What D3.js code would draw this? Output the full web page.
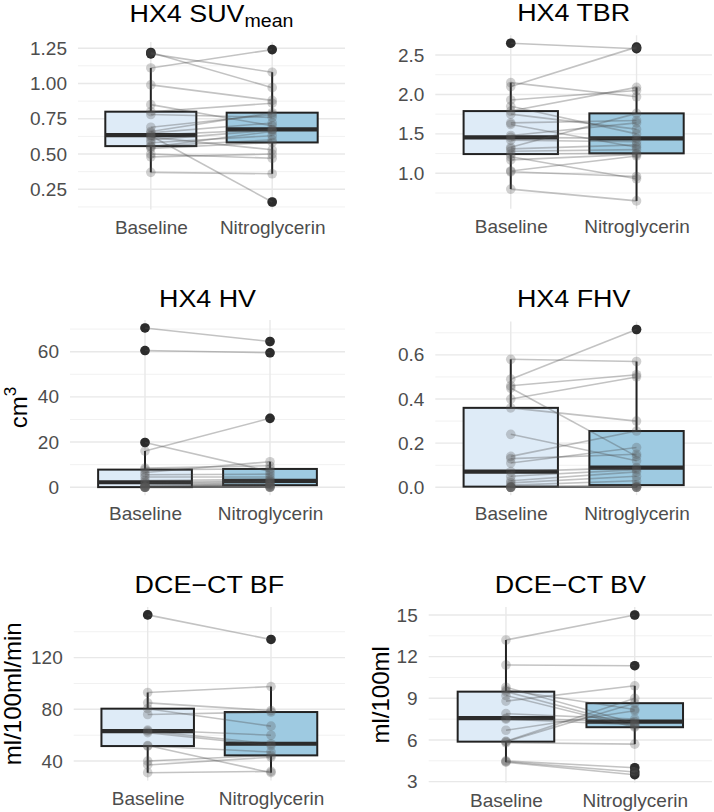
<!DOCTYPE html>
<html><head><meta charset="utf-8">
<script src="https://cdn.jsdelivr.net/npm/d3@7"></script>
<style>body{margin:0;background:#fff}svg text{font-family:"Liberation Sans",Arial,sans-serif}</style>
</head><body><svg id="c" width="714" height="812"></svg>
<script>
// ---------- data (paired values, same patient order in each pair of arrays) ----------
const categories = ["Baseline", "Nitroglycerin"];

const suvBaseline = [1.22,1.21,1.11,0.99,0.85,0.80,0.78,0.69,0.63,0.66,0.65,0.634,0.62,0.60,0.58,0.556,0.55,0.54,0.50,0.48,0.37];
const suvNitro    = [0.97,1.08,1.24,0.88,0.70,0.86,0.76,0.78,0.16,0.793,0.72,0.674,0.53,0.67,0.63,0.60,0.66,0.582,0.47,0.50,0.36];
const suvTicks = [0.25,0.50,0.75,1.00,1.25];

const tbrBaseline = [2.65,2.15,2.10,1.93,1.85,1.789,1.75,1.64,1.62,1.48,1.456,1.42,1.33,1.31,1.28,1.244,1.21,1.17,1.03,1.02,0.80];
const tbrNitro    = [2.58,1.97,2.60,2.05,1.50,2.09,1.56,1.67,1.33,1.64,1.443,1.40,1.76,1.36,1.30,1.253,0.93,1.24,1.22,0.96,0.65];
const tbrTicks = [1.0,1.5,2.0,2.5];

const hvBaseline = [70.5,60.5,19.8,16,8.5,7.8,6.5,5.5,4.5,3.0,2.2,1.6,1.0,0.6,0.3,0.05,0,0,0,0,0];
const hvNitro    = [64.5,59.5,7.0,30.5,9.5,8.1,11.3,5.8,4.5,3.5,2.8,2.4,2.0,1.5,1.2,0.9,0.5,0.2,0,0,0];
const hvTicks = [0,20,40,60];

const fhvBaseline = [0.49,0.58,0.46,0.45,0.40,0.36,0.24,0.14,0.13,0.11,0.071,0.05,0.03,0.02,0.01,0.003,0,0,0,0,0];
const fhvNitro    = [0.715,0.57,0.51,0.14,0.50,0.30,0.12,0.255,0.15,0.18,0.089,0.08,0.07,0.05,0.03,0.01,0.005,0,0,0,0];
const fhvTicks = [0.0,0.2,0.4,0.6];

const bfBaseline = [153,93,85,80.5,76,64,63.2,62,52,51.6,40,37,31];
const bfNitro    = [134,97.6,79,67,77.9,60,53.4,52,31,47,44.4,43,32];
const bfTicks = [40,80,120];

const bvBaseline = [13.2,11.4,9.8,9.6,9.48,9.2,8.8,7.9,7.57,7.5,6.7,5.9,5.88,5.8,4.5,4.45,4.4];
const bvNitro    = [15.0,11.35,7.2,8.2,7.0,6.92,9.9,7.5,7.32,7.1,8.1,9.0,8.65,5.7,4.0,3.7,3.5];
const bvTicks = [3,6,9,12,15];

const titles = ["HX4 SUV", "HX4 TBR", "HX4 HV", "HX4 FHV", "DCE\u2212CT BF", "DCE\u2212CT BV"];
const yTitles = [null, null, "cm", null, "ml/100ml/min", "ml/100ml"];

// ---------- layout ----------
const layout = [
  {left:78,    right:345, top:42,    bottom:209.6, titleY:22.2, fmt:".2f", sub:"mean"},
  {left:435.3, right:712, top:35.3,  bottom:208.8, titleY:21.4, fmt:".1f"},
  {left:70,    right:345, top:320,   bottom:495.2, titleY:306.7, fmt:"d", ylabX:26.5, sup:"3"},
  {left:435.3, right:712, top:321.6, bottom:495.2, titleY:306.7, fmt:".1f"},
  {left:73.7,  right:345, top:607,   bottom:780.6, titleY:593.3, fmt:"d", ylabX:21},
  {left:428.7, right:712, top:607,   bottom:782.7, titleY:593.3, fmt:"d", ylabX:389}
];
const series = [
  [suvBaseline, suvNitro, suvTicks],
  [tbrBaseline, tbrNitro, tbrTicks],
  [hvBaseline, hvNitro, hvTicks],
  [fhvBaseline, fhvNitro, fhvTicks],
  [bfBaseline, bfNitro, bfTicks],
  [bvBaseline, bvNitro, bvTicks]
];
const fills = ["#deebf7", "#9ecae1"];

const svg = d3.select("#c");

function boxStats(vals) {
  const s = vals.slice().sort(d3.ascending);
  const q1 = d3.quantileSorted(s, 0.25), med = d3.quantileSorted(s, 0.5), q3 = d3.quantileSorted(s, 0.75);
  const iqr = q3 - q1, lo = q1 - 1.5 * iqr, hi = q3 + 1.5 * iqr;
  const inside = s.filter(v => v >= lo && v <= hi);
  return {q1, med, q3, wlo: d3.min(inside), whi: d3.max(inside), out: s.filter(v => v < lo || v > hi)};
}

layout.forEach((L, i) => {
  const [base, nitro, ticks] = series[i];
  const g = svg.append("g");
  const all = base.concat(nitro);
  const [mn, mx] = d3.extent(all);
  const r = mx - mn;
  const y = d3.scaleLinear().domain([mn - 0.05 * r, mx + 0.05 * r]).range([L.bottom, L.top]);
  const x = d3.scalePoint().domain(categories).range([L.left, L.right]).padding(0.6);
  const bw = x.step() * 0.75;
  const [d0, d1] = y.domain();

  // minor grid
  const step = ticks[1] - ticks[0];
  const minor = [];
  for (let k = -1; k <= ticks.length; k++) {
    const v = ticks[0] + (k + 0.5) * step;
    if (v > d0 && v < d1) minor.push(v);
  }
  g.selectAll(".mg").data(minor).join("line")
    .attr("x1", L.left).attr("x2", L.right).attr("y1", d => y(d)).attr("y2", d => y(d))
    .attr("stroke", "#f1f1f1").attr("stroke-width", 1);
  g.selectAll(".Mg").data(ticks).join("line")
    .attr("x1", L.left).attr("x2", L.right).attr("y1", d => y(d)).attr("y2", d => y(d))
    .attr("stroke", "#e8e8e8").attr("stroke-width", 1.4);
  g.selectAll(".vg").data(categories).join("line")
    .attr("x1", d => x(d)).attr("x2", d => x(d)).attr("y1", L.top).attr("y2", L.bottom)
    .attr("stroke", "#e8e8e8").attr("stroke-width", 1.4);

  // y axis
  const ya = g.append("g").attr("transform", `translate(${L.left},0)`)
    .call(d3.axisLeft(y).tickValues(ticks).tickFormat(d3.format(L.fmt)).tickSize(0).tickPadding(11));
  ya.select(".domain").remove();
  ya.selectAll("text").attr("font-size", 19).attr("fill", "#4d4d4d")
    .style("font-family", '"Liberation Sans",Arial,sans-serif');

  // x axis
  const xa = g.append("g").attr("transform", `translate(0,${L.bottom})`)
    .call(d3.axisBottom(x).tickSize(0).tickPadding(11));
  xa.select(".domain").remove();
  xa.selectAll("text").attr("font-size", 19).attr("fill", "#4d4d4d")
    .style("font-family", '"Liberation Sans",Arial,sans-serif');

  // boxplots
  [base, nitro].forEach((vals, j) => {
    const st = boxStats(vals);
    const cx = x(categories[j]);
    g.append("line").attr("x1", cx).attr("x2", cx).attr("y1", y(st.whi)).attr("y2", y(st.q3))
      .attr("stroke", "#222").attr("stroke-width", 2);
    g.append("line").attr("x1", cx).attr("x2", cx).attr("y1", y(st.q1)).attr("y2", y(st.wlo))
      .attr("stroke", "#222").attr("stroke-width", 2);
    g.append("rect").attr("x", cx - bw / 2).attr("width", bw)
      .attr("y", y(st.q3)).attr("height", Math.max(0, y(st.q1) - y(st.q3)))
      .attr("fill", fills[j]).attr("stroke", "#222").attr("stroke-width", 2);
    g.append("line").attr("x1", cx - bw / 2).attr("x2", cx + bw / 2)
      .attr("y1", y(st.med)).attr("y2", y(st.med))
      .attr("stroke", "#2b2b2b").attr("stroke-width", 4.2);
    g.selectAll(null).data(st.out).join("circle")
      .attr("cx", cx).attr("cy", d => y(d)).attr("r", 4.8).attr("fill", "#1c1c1c");
  });

  // paired lines
  g.selectAll(null).data(d3.range(base.length)).join("line")
    .attr("x1", x(categories[0])).attr("x2", x(categories[1]))
    .attr("y1", k => y(base[k])).attr("y2", k => y(nitro[k]))
    .attr("stroke", "#4a4a4a").attr("stroke-opacity", 0.33).attr("stroke-width", 1.6);
  // points
  [base, nitro].forEach((vals, j) => {
    g.selectAll(null).data(vals).join("circle")
      .attr("cx", x(categories[j])).attr("cy", d => y(d)).attr("r", 4.8)
      .attr("fill", "#555").attr("fill-opacity", 0.28);
  });

  // title (slightly widened glyphs, as in the reference)
  const t = g.append("text")
    .attr("transform", `translate(${(L.left + L.right) / 2},${L.titleY}) scale(1.12,1)`)
    .attr("text-anchor", "middle").attr("font-size", 24).attr("fill", "#000").text(titles[i]);
  if (L.sub) t.append("tspan").attr("font-size", 17.5).attr("dy", 5).text(L.sub);

  // y title
  if (yTitles[i]) {
    const cy = (L.top + L.bottom) / 2;
    const yt = g.append("text").attr("transform", `translate(${L.ylabX},${cy}) rotate(-90)`)
      .attr("text-anchor", "middle").attr("font-size", 24).attr("fill", "#000").text(yTitles[i]);
    if (L.sup) yt.append("tspan").attr("font-size", 17).attr("dy", -11).text(L.sup);
  }
});
</script>
</body></html>
